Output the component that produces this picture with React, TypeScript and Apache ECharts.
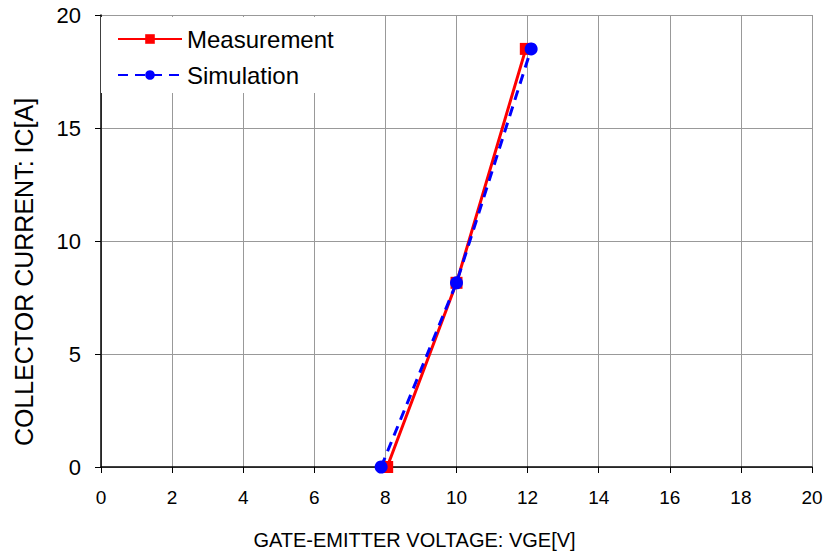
import React, { useEffect, useRef } from "react";
import * as echarts from "echarts";

const measurementX = [8.05, 10.0, 11.95];
const measurementY = [0, 8.15, 18.5];
const simulationX = [7.88, 10.0, 12.1];
const simulationY = [0, 8.15, 18.5];
const xTitle = "GATE-EMITTER VOLTAGE: VGE[V]";
const yTitle = "COLLECTOR CURRENT: IC[A]";

export default function App() {
  const ref = useRef<HTMLDivElement>(null);
  useEffect(() => {
    const chart = echarts.init(ref.current!, null, { renderer: "svg" });
    const font = "Liberation Sans, Arial, sans-serif";
    chart.setOption({
      animation: false,
      backgroundColor: "#fff",
      textStyle: { fontFamily: font },
      grid: {
        left: 101,
        right: 15,
        top: 15,
        bottom: 91,
        containLabel: false,
        outerBoundsMode: "none",
      },
      legend: {
        orient: "vertical",
        left: 101,
        top: 17,
        backgroundColor: "#fff",
        padding: [10, 10, 6, 16],
        itemWidth: 64,
        itemHeight: 12,
        itemGap: 12,
        textStyle: { fontSize: 24, color: "#000", fontFamily: font },
        data: ["Measurement", "Simulation"],
      },
      xAxis: {
        type: "value",
        min: 0,
        max: 20,
        interval: 2,
        name: xTitle,
        nameLocation: "middle",
        nameGap: 63,
        nameTextStyle: { fontSize: 20, color: "#000", padding: [0, 84, 0, 0] },
        axisLine: { show: true, lineStyle: { color: "#000", width: 1.5 } },
        axisTick: { show: true, length: 6, lineStyle: { color: "#000" } },
        axisLabel: { fontSize: 19, color: "#000", margin: 21 },
        splitLine: { show: true, lineStyle: { color: "#999", width: 1 } },
      },
      yAxis: {
        type: "value",
        min: 0,
        max: 20,
        interval: 5,
        name: yTitle,
        nameLocation: "middle",
        nameGap: 65,
        nameTextStyle: { fontSize: 25, color: "#000", padding: [0, 62, 0, 0] },
        axisLine: { show: true, lineStyle: { color: "#000", width: 1.5 } },
        axisTick: { show: true, length: 6, lineStyle: { color: "#000" } },
        axisLabel: { fontSize: 22, color: "#000", margin: 20 },
        splitLine: { show: true, lineStyle: { color: "#999", width: 1 } },
      },
      series: [
        {
          name: "Measurement",
          type: "line",
          data: measurementX.map((x, i) => [x, measurementY[i]]),
          symbol: "rect",
          symbolSize: 12,
          itemStyle: { color: "#ff0000" },
          lineStyle: { color: "#ff0000", width: 3 },
          z: 3,
        },
        {
          name: "Simulation",
          type: "line",
          data: simulationX.map((x, i) => [x, simulationY[i]]),
          symbol: "circle",
          symbolSize: 13,
          itemStyle: { color: "#0000ff" },
          lineStyle: { color: "#0000ff", width: 3, type: [10, 7] },
          z: 4,
        },
      ],
    });
    return () => chart.dispose();
  }, []);
  return (
    <div
      ref={ref}
      style={{ position: "fixed", left: 0, top: 0, width: 827, height: 558 }}
    />
  );
}
